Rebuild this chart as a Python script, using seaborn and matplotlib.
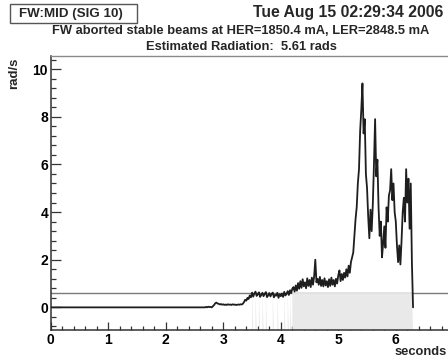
"""Radiation monitor trace: FW:MID (SIG 10) beam abort."""

import matplotlib

matplotlib.use("Agg")

import matplotlib.pyplot as plt
import numpy as np
import pandas as pd
import seaborn as sns
from matplotlib.patches import Rectangle
from matplotlib.ticker import MultipleLocator

# quiet baseline before the activity
flat_time = [0.0, 2.68]
flat_rate = [0.0, 0.0]

# sampled trace, 0.02 s apart, starting at 2.70 s
trace_start = 2.70
trace_step = 0.02
trace_rate = [
    0.02, 0.00, 0.03, 0.01, 0.02, 0.00, 0.05,
    0.10, 0.17, 0.20, 0.16,
    0.15, 0.12, 0.14, 0.11, 0.13, 0.10, 0.12, 0.10, 0.13, 0.11, 0.12,
    0.10, 0.13, 0.11, 0.12, 0.10, 0.11, 0.12, 0.11, 0.13, 0.12, 0.15,
    0.22, 0.32, 0.28, 0.40, 0.35, 0.50, 0.42,
    0.62, 0.45, 0.58, 0.66, 0.48, 0.55, 0.63, 0.44, 0.52, 0.61,
    0.47, 0.57, 0.64, 0.43, 0.50, 0.60, 0.46, 0.56, 0.62, 0.42,
    0.53, 0.49, 0.61, 0.40, 0.55, 0.47, 0.58, 0.44, 0.65, 0.50,
    0.57, 0.68, 0.52, 0.72, 0.60, 0.78,
    0.85, 0.66, 0.92, 0.70, 1.02, 0.78, 1.10, 0.82, 1.18, 0.88,
    1.05, 0.80, 1.22, 0.90, 1.15, 0.85, 1.25, 0.95, 1.30, 2.00, 1.05,
    1.20, 0.95, 1.28, 0.90, 1.15, 0.88, 1.22, 0.92, 1.10, 0.85,
    1.18, 0.90, 1.25, 0.95, 1.15, 0.88, 1.20, 1.00, 1.35, 1.55,
    1.10, 1.40, 1.15, 1.45, 1.25, 1.60, 1.30, 1.75, 1.45,
    1.90, 2.10, 2.30, 3.00, 3.70, 4.20, 5.20, 5.80, 7.40, 8.30,
    9.40, 7.30, 7.90, 5.60, 5.00, 3.80, 2.90, 4.10, 3.20, 4.30,
    6.00, 7.90, 5.50, 6.20, 4.20, 3.00, 3.60, 2.10, 2.70, 3.40,
    2.50, 4.20, 3.60, 4.70, 4.90, 5.80, 4.50, 5.20, 4.00, 3.60,
    2.60, 1.90, 2.60, 1.80, 2.80, 4.00, 4.60, 3.60, 5.80, 4.40,
    5.40, 3.30, 5.20, 1.90, 0.00,
]

threshold = 0.6

box_title = "FW:MID (SIG 10)"
timestamp = "Tue Aug 15 02:29:34 2006"
subtitle_1 = "FW aborted stable beams at HER=1850.4 mA, LER=2848.5 mA"
subtitle_2 = "Estimated Radiation:  5.61 rads"

trace_time = trace_start + trace_step * np.arange(len(trace_rate))
frame = pd.DataFrame(
    {
        "time": np.concatenate([flat_time, trace_time]),
        "rate": np.concatenate([flat_rate, trace_rate]),
    }
)

sns.set_theme(style="ticks")
plt.rcParams["font.family"] = ["Liberation Sans", "DejaVu Sans"]
plt.rcParams["font.weight"] = "bold"

fig = plt.figure(figsize=(4.48, 3.60), dpi=100)
W, H = 448, 360
# the original is cropped at the right, so the axes runs to the picture edge
ax = fig.add_axes([50.8 / W, 30 / H, (W - 50.8) / W, 274 / H])

ylo, yhi = -0.95, 10.55
ax.axhline(threshold, color="#7a7a7a", lw=1.0, zorder=1)
ax.fill_between(
    frame["time"], ylo, threshold,
    where=frame["rate"] > threshold, interpolate=True,
    color="#e9e9e9", lw=0, zorder=2,
)
sns.lineplot(
    data=frame, x="time", y="rate", estimator=None, sort=False,
    color="#1e1e1e", lw=1.3, ax=ax, zorder=3,
)

ax.set_xlim(0, (W - 50.8) / 57.5)
ax.set_ylim(ylo, yhi)
ax.xaxis.set_major_locator(MultipleLocator(1))
ax.xaxis.set_minor_locator(MultipleLocator(0.2))
ax.yaxis.set_major_locator(MultipleLocator(2))
ax.yaxis.set_minor_locator(MultipleLocator(0.4))
ax.tick_params(axis="both", which="both", direction="in", color="#333333",
               labelsize=10, labelcolor="black", width=0.9, pad=2)
ax.tick_params(axis="y", which="major", length=7.5)
ax.tick_params(axis="y", which="minor", length=3.8)
ax.tick_params(axis="x", which="major", length=6)
ax.tick_params(axis="x", which="minor", length=3)
for lab in ax.get_xticklabels() + ax.get_yticklabels():
    lab.set_fontweight("bold")
ax.set_xlabel("")
ax.set_ylabel("")
for side in ["left", "bottom"]:
    ax.spines[side].set_color("#333333")
    ax.spines[side].set_linewidth(1.1)
ax.spines["top"].set_color("#8a8a8a")
ax.spines["top"].set_linewidth(1.0)
ax.spines["right"].set_visible(False)

fig.text(14 / W, 1 - 58 / H, "rad/s", rotation=90, ha="center", va="top",
         fontsize=9.5, fontweight="bold")
fig.text(447 / W, 1 - 352 / H, "seconds", ha="right", va="center",
         fontsize=9.3, fontweight="bold")

# boxed pad label, top-left
fig.patches.append(Rectangle((10 / W, 1 - 22.5 / H), 127 / W, 18 / H,
                             transform=fig.transFigure, fc="white",
                             ec="#555555", lw=1))
fig.text(71 / W, 1 - 13.5 / H, box_title, ha="center", va="center",
         fontsize=9.6, fontweight="bold")
fig.text(443 / W, 1 - 13 / H, timestamp, ha="right", va="center",
         fontsize=11.3, fontweight="bold")
fig.text(241 / W, 1 - 31 / H, subtitle_1, ha="center", va="center",
         fontsize=9.3, fontweight="bold")
fig.text(241 / W, 1 - 47 / H, subtitle_2, ha="center", va="center",
         fontsize=9.3, fontweight="bold")

fig.savefig("out.png", dpi=100)
